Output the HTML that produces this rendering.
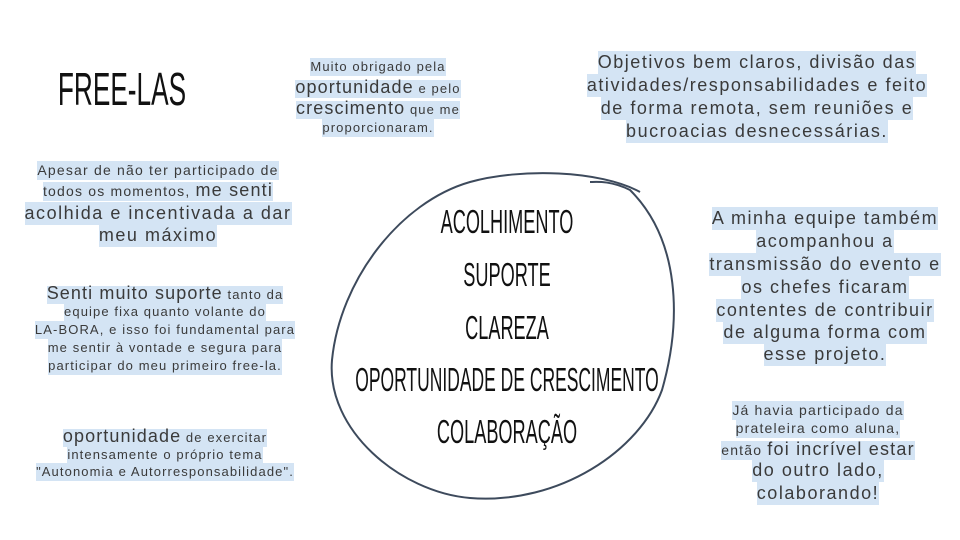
<!DOCTYPE html>
<html><head><meta charset="utf-8"><style>
html,body{margin:0;padding:0;background:#fff}
#c{position:relative;width:960px;height:540px;overflow:hidden;font-family:"Liberation Sans",sans-serif;color:#3a3a3a}
.l{position:absolute;width:440px;text-align:center;white-space:nowrap;line-height:20px;font-size:13px;letter-spacing:0.085em}
.l span{background:#d4e4f4;padding:1px 0 2px}
.b{font-size:18px}
.t{position:absolute;width:600px;text-align:center;white-space:nowrap;font-family:"Liberation Sans",sans-serif;color:#111;transform:scaleX(0.55);transform-origin:center;line-height:1}
</style></head><body><div id="c">
<svg width="960" height="540" style="position:absolute;left:0;top:0">
<path d="M640,192 C600,170 520,168 470,182 C400,202 340,280 332,360 C326,430 400,492 470,498 C560,505 640,450 662,390 C682,320 680,240 630,190 C610,180 595,182 590,182" fill="none" stroke="#3d4a5c" stroke-width="2"/>
</svg>

<div class="t" style="left:-178px;top:66px;font-size:46px;transform:scaleX(0.57)">FREE-LAS</div>

<div class="t" style="left:207px;top:205px;font-size:33px">ACOLHIMENTO</div>
<div class="t" style="left:207px;top:258px;font-size:33px">SUPORTE</div>
<div class="t" style="left:207px;top:311px;font-size:33px">CLAREZA</div>
<div class="t" style="left:207px;top:363px;font-size:33px;transform:scaleX(0.53)">OPORTUNIDADE DE CRESCIMENTO</div>
<div class="t" style="left:207px;top:415px;font-size:33px">COLABORAÇÃO</div>

<div class="l" style="left:158px;top:57px"><span>Muito obrigado pela</span></div>
<div class="l" style="left:158px;top:77px"><span><b class="b" style="font-weight:normal">oportunidade</b> e pelo</span></div>
<div class="l" style="left:158px;top:98px"><span><b class="b" style="font-weight:normal">crescimento</b> que me</span></div>
<div class="l" style="left:158px;top:118px"><span>proporcionaram.</span></div>

<div class="l b" style="left:537px;top:51px;line-height:23px"><span>Objetivos bem claros, divisão das</span></div>
<div class="l b" style="left:537px;top:74px;line-height:23px"><span>atividades/responsabilidades e feito</span></div>
<div class="l b" style="left:537px;top:97px;line-height:23px"><span>de forma remota, sem reuniões e</span></div>
<div class="l b" style="left:537px;top:120px;line-height:23px"><span>bucroacias desnecessárias.</span></div>

<div class="l" style="left:-62px;top:160px;font-size:14px"><span>Apesar de não ter participado de</span></div>
<div class="l" style="left:-62px;top:180px;font-size:14px"><span>todos os momentos, <b class="b" style="font-weight:normal">me senti</b></span></div>
<div class="l b" style="left:-62px;top:202px;line-height:22px"><span>acolhida e incentivada a dar</span></div>
<div class="l b" style="left:-62px;top:224px;line-height:22px"><span>meu máximo</span></div>

<div class="l" style="left:-55px;top:283px"><span><b class="b" style="font-weight:normal">Senti muito suporte</b> tanto da</span></div>
<div class="l" style="left:-55px;top:302px"><span>equipe fixa quanto volante do</span></div>
<div class="l" style="left:-55px;top:320px"><span>LA-BORA, e isso foi fundamental para</span></div>
<div class="l" style="left:-55px;top:338px"><span>me sentir à vontade e segura para</span></div>
<div class="l" style="left:-55px;top:356px"><span>participar do meu primeiro free-la.</span></div>

<div class="l" style="left:-55px;top:426px"><span><b class="b" style="font-weight:normal">oportunidade</b> de exercitar</span></div>
<div class="l" style="left:-55px;top:445px"><span>intensamente o próprio tema</span></div>
<div class="l" style="left:-55px;top:462px"><span>"Autonomia e Autorresponsabilidade".</span></div>

<div class="l b" style="left:605px;top:207px;line-height:23px"><span>A minha equipe também</span></div>
<div class="l b" style="left:605px;top:230px;line-height:23px"><span>acompanhou a</span></div>
<div class="l b" style="left:605px;top:253px;line-height:23px"><span>transmissão do evento e</span></div>
<div class="l b" style="left:605px;top:276px;line-height:23px"><span>os chefes ficaram</span></div>
<div class="l b" style="left:605px;top:299px;line-height:23px"><span>contentes de contribuir</span></div>
<div class="l b" style="left:605px;top:321px;line-height:23px"><span>de alguma forma com</span></div>
<div class="l b" style="left:605px;top:343px;line-height:23px"><span>esse projeto.</span></div>

<div class="l" style="left:598px;top:400px;font-size:14px"><span>Já havia participado da</span></div>
<div class="l" style="left:598px;top:418px;font-size:14px"><span>prateleira como aluna,</span></div>
<div class="l" style="left:598px;top:439px;font-size:14px"><span>então <b class="b" style="font-weight:normal">foi incrível estar</b></span></div>
<div class="l b" style="left:598px;top:459px;line-height:22px"><span>do outro lado,</span></div>
<div class="l b" style="left:598px;top:482px;line-height:22px"><span>colaborando!</span></div>
</div></body></html>
